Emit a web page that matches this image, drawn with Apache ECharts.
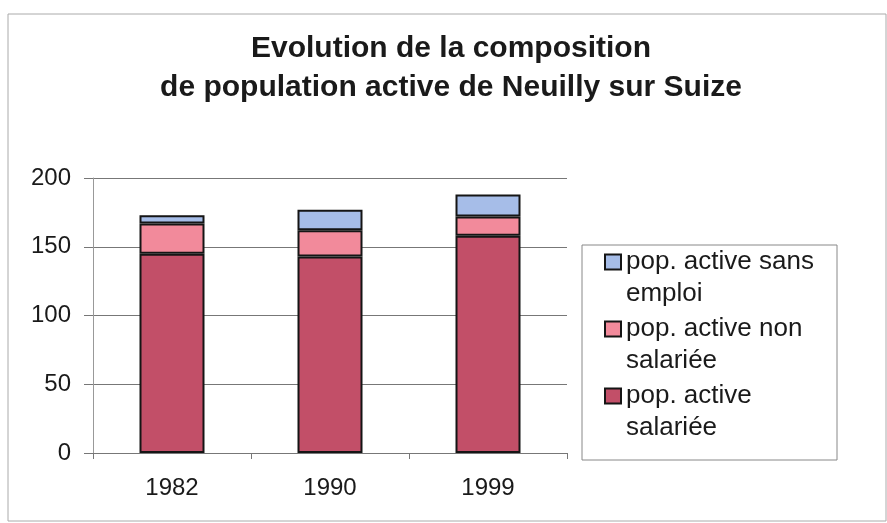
<!DOCTYPE html>
<html>
<head>
<meta charset="utf-8">
<script src="https://cdn.jsdelivr.net/npm/echarts@6/dist/echarts.min.js"></script>
<style>
  html, body { margin: 0; padding: 0; background: #fff; }
  #main { width: 887px; height: 523px; }
</style>
</head>
<body>
<div id="main"></div>
<script>
const years = ['1982', '1990', '1999']
const salariee = [145, 143, 158]
const nonSalariee = [22, 19, 14]
const sansEmploi = [6, 15, 16]
const seriesNames = ['pop. active sans emploi', 'pop. active non salariée', 'pop. active salariée']
// line breaks as in the legend box (leading empty line keeps the icon on the first line)
const legendLabels = {
  'pop. active sans emploi': '\npop. active sans\nemploi',
  'pop. active non salariée': '\npop. active non\nsalariée',
  'pop. active salariée': '\npop. active\nsalariée'
}

let chart = echarts.init(document.querySelector('#main'))

const barStyle = function (color) {
  return { color: color, borderColor: '#151515', borderWidth: 2 }
}

let option = {
  backgroundColor: '#fff',
  animation: false,
  textStyle: { fontFamily: 'Liberation Sans, Arial, sans-serif' },

  title: {
    text: 'Evolution de la composition\nde population active de Neuilly sur Suize',
    left: 446,
    textAlign: 'center',
    top: 24,
    textStyle: {
      fontSize: 30,
      fontWeight: 'bold',
      color: '#1a1a1a',
      lineHeight: 39,
      fontFamily: 'Liberation Sans, Arial, sans-serif'
    }
  },

  legend: {
    orient: 'vertical',
    left: 604,
    top: 214,
    padding: 0,
    itemGap: -29,
    itemWidth: 16,
    itemHeight: 15,
    data: seriesNames.map(function (n) {
      return { name: n, icon: 'rect', itemStyle: { borderColor: '#151515', borderWidth: 2 } }
    }),
    formatter: function (name) { return legendLabels[name] },
    textStyle: {
      fontSize: 26,
      color: '#1a1a1a',
      lineHeight: 32
    }
  },

  grid: { left: 93, right: 320, top: 178, bottom: 70 },

  xAxis: {
    type: 'category',
    data: years,
    axisLine: { lineStyle: { color: '#777', width: 1 } },
    axisTick: { show: true, length: 6, lineStyle: { color: '#777' } },
    axisLabel: { fontSize: 24, color: '#1a1a1a', margin: 23 }
  },

  yAxis: {
    type: 'value',
    min: 0,
    max: 200,
    interval: 50,
    axisLine: { show: true, lineStyle: { color: '#999', width: 1 } },
    axisTick: { show: true, length: 9, lineStyle: { color: '#777' } },
    axisLabel: { fontSize: 24, color: '#1a1a1a', margin: 22 },
    splitLine: { lineStyle: { color: '#777', width: 1 } }
  },

  graphic: [
    {
      // outer chart frame
      type: 'rect',
      shape: { x: 8, y: 14, width: 878, height: 507 },
      style: { fill: 'none', stroke: '#aaa', lineWidth: 1 },
      z: -1
    },
    {
      // legend box
      type: 'rect',
      shape: { x: 582, y: 245, width: 255, height: 215 },
      style: { fill: '#fff', stroke: '#888', lineWidth: 1 },
      z: -1
    }
  ],

  series: [
    {
      name: 'pop. active salariée',
      type: 'bar',
      stack: 'pop',
      barWidth: 65,
      itemStyle: barStyle('#c24f68'),
      data: salariee
    },
    {
      name: 'pop. active non salariée',
      type: 'bar',
      stack: 'pop',
      barWidth: 65,
      itemStyle: barStyle('#f28a9b'),
      data: nonSalariee
    },
    {
      name: 'pop. active sans emploi',
      type: 'bar',
      stack: 'pop',
      barWidth: 65,
      itemStyle: barStyle('#a6bde8'),
      data: sansEmploi
    }
  ]
}
chart.setOption(option)
</script>
</body>
</html>
